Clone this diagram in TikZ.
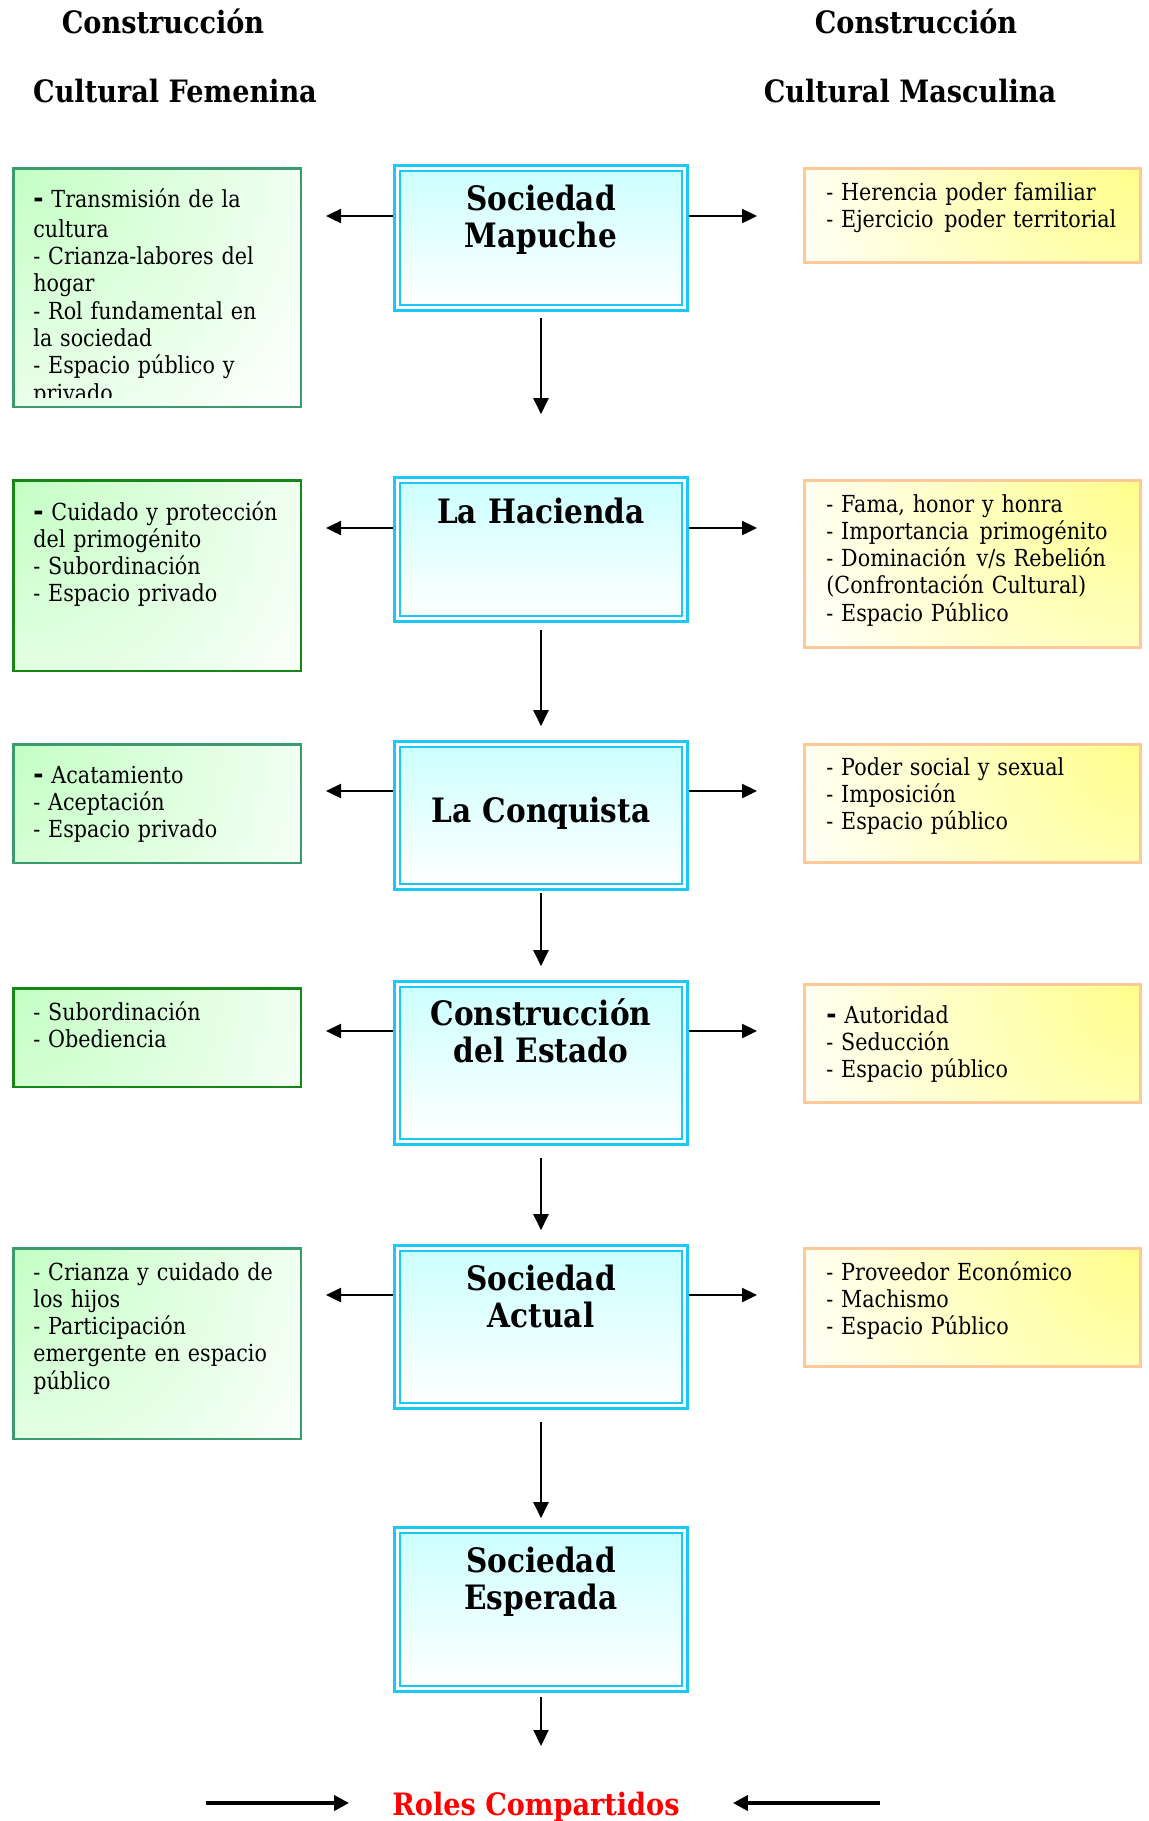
\documentclass[tikz,border=0pt]{standalone}
\usepackage{fontspec}
\setmainfont{DejaVu Serif}[FakeStretch=0.88]
\usetikzlibrary{arrows.meta}

\definecolor{boxcyan}{RGB}{25,200,245}
\definecolor{fillcyan}{RGB}{204,255,255}
\definecolor{fillgreen}{RGB}{196,255,196}
\definecolor{edgeteal}{RGB}{60,155,110}
\definecolor{edgegreen}{RGB}{20,135,20}
\definecolor{fillyellow}{RGB}{255,255,140}
\definecolor{edgepeach}{RGB}{255,200,150}
\definecolor{rolered}{RGB}{255,0,0}

% heavier leading dash used at the start of some lists
\newcommand{\bigdash}{{\fontsize{14pt}{14pt}\selectfont\bfseries -}}
% wide gap between two words
\newcommand{\gap}{\hspace{0.45em}}

\begin{document}
\begin{tikzpicture}[x=0.5pt,y=-0.5pt,
  stage/.style={inner sep=0pt, outer sep=0pt, minimum width=143.8pt,
    draw=boxcyan, line width=1.4pt, double=white, double distance=1.35pt,
    top color=fillcyan, bottom color=white},
  femenino/.style={inner sep=0pt, outer sep=0pt, minimum width=143.75pt,
    draw=edgeteal, line width=1.25pt, fill=white,
    path picture={\fill[inner color=fillgreen, outer color=white]
      (path picture bounding box.north west) circle (185pt);}},
  masculino/.style={inner sep=0pt, outer sep=0pt, minimum width=168pt,
    draw=edgepeach, line width=1.5pt, fill=white,
    path picture={\fill[inner color=fillyellow, outer color=white]
      (path picture bounding box.north east) circle (190pt);}},
  stagetitle/.style={font=\fontsize{16.8pt}{18.5pt}\selectfont\bfseries,
    align=center, text width=160pt, inner sep=0pt, anchor=base},
  roltext/.style={font=\fontsize{11.75pt}{13.65pt}\selectfont,
    align=left, text width=165pt, inner sep=0pt, anchor=base west},
  encabezado/.style={font=\fontsize{15.4pt}{18pt}\selectfont\bfseries,
    inner sep=0pt, anchor=base},
  sidearrow/.style={line width=1.2pt, -{Triangle[length=7.5pt,width=7pt]}},
  downarrow/.style={line width=1pt, -{Triangle[length=8pt,width=7.5pt]}},
  bigarrow/.style={line width=2.4pt, -{Triangle[length=7.5pt,width=7.5pt]}}
]
\fill[white] (0,0) rectangle (1149,1821);
\useasboundingbox (0,0) rectangle (1149,1821);

% column headings
\node[encabezado] (hf1) at (163,33) {Construcción};
\node[encabezado] (hf2) at (175,102) {Cultural Femenina};
\node[encabezado] (hm1) at (916,33) {Construcción};
\node[encabezado] (hm2) at (910,102) {Cultural Masculina};

% central stages
\node[stage, minimum height=69.8pt] (b1) at (541,238) {};
\node[stage, minimum height=69.3pt] (b2) at (541,549.5) {};
\node[stage, minimum height=71.3pt] (b3) at (541,815.5) {};
\node[stage, minimum height=78.8pt] (b4) at (541,1063) {};
\node[stage, minimum height=78.8pt] (b5) at (541,1327) {};
\node[stage, minimum height=79.3pt] (b6) at (541,1609.5) {};

\node[stagetitle] (t1) at (541,210) {Sociedad\\Mapuche};
\node[stagetitle] (t2) at (541,523) {La Hacienda};
\node[stagetitle] (t3) at (541,822) {La Conquista};
\node[stagetitle] (t4) at (541,1025) {Construcción\\del Estado};
\node[stagetitle] (t5) at (541,1290) {Sociedad\\Actual};
\node[stagetitle] (t6) at (541,1572) {Sociedad\\Esperada};

% feminine roles
\node[femenino, minimum height=119.25pt] (g1) at (157,287.5) {};
\node[femenino, draw=edgegreen, minimum height=95.25pt] (g2) at (157,575.5) {};
\node[femenino, minimum height=59.25pt] (g3) at (157,803.5) {};
\node[femenino, draw=edgegreen, minimum height=49.25pt] (g4) at (157,1037.5) {};
\node[femenino, minimum height=95.25pt] (g5) at (157,1343.5) {};

\begin{scope}
  \clip (0,0) rectangle (1149,397);
  \node[roltext] (g1t) at (33,207) {\bigdash{} Transmisión de la\\[1.5pt]cultura\\- Crianza-labores del\\hogar\\- Rol fundamental en\\la sociedad\\- Espacio público y\\privado};
\end{scope}
\node[roltext] (g2t) at (33,520) {\bigdash{} Cuidado y protección\\del primogénito\\- Subordinación\\- Espacio privado};
\node[roltext] (g3t) at (33,783) {\bigdash{} Acatamiento\\- Aceptación\\- Espacio privado};
\node[roltext] (g4t) at (33,1020) {- Subordinación\\- Obediencia};
\node[roltext] (g5t) at (33,1280) {- Crianza y cuidado de\\los hijos\\- Participación\\emergente en espacio\\público};

% masculine roles
\node[masculino, minimum height=47pt] (y1) at (972.5,215.5) {};
\node[masculino, minimum height=83.5pt] (y2) at (972.5,564) {};
\node[masculino, minimum height=59pt] (y3) at (972.5,803.5) {};
\node[masculino, minimum height=59pt] (y4) at (972.5,1043.5) {};
\node[masculino, minimum height=59pt] (y5) at (972.5,1307.5) {};

\node[roltext] (y1t) at (826,200) {- Herencia poder familiar\\- Ejercicio\gap poder territorial};
\node[roltext] (y2t) at (826,512) {- Fama, honor y honra\\- Importancia\gap primogénito\\- Dominación\gap v/s Rebelión\\(Confrontación Cultural)\\- Espacio Público};
\node[roltext] (y3t) at (826,775) {- Poder social y sexual\\- Imposición\\- Espacio público};
\node[roltext] (y4t) at (826,1023) {\bigdash{} Autoridad\\- Seducción\\- Espacio público};
\node[roltext] (y5t) at (826,1280) {- Proveedor Económico\\- Machismo\\- Espacio Público};

% side arrows
\foreach \i/\yy in {1/216, 2/528, 3/791, 4/1031, 5/1295}{
  \coordinate (wl\i) at (326,\yy);
  \coordinate (wr\i) at (757,\yy);
  \draw[sidearrow, shorten <=2pt] (b\i.west |- wl\i) -- (wl\i);
  \draw[sidearrow, shorten <=2pt] (b\i.east |- wr\i) -- (wr\i);
}

% downward sequence
\draw[downarrow, shorten <=5pt, shorten >=33pt] (b1.south) -- (b2.north);
\draw[downarrow, shorten <=5.5pt, shorten >=9pt] (b2.south) -- (b3.north);
\draw[downarrow, shorten <=3pt, shorten >=9pt] (b3.south) -- (b4.north);
\draw[downarrow, shorten <=8pt, shorten >=9pt] (b4.south) -- (b5.north);
\draw[downarrow, shorten <=8pt, shorten >=6pt] (b5.south) -- (b6.north);
\coordinate (fin) at (541,1746);
\draw[downarrow, shorten <=4pt] (b6.south) -- (fin);

% shared roles
\node[encabezado, text=rolered] (rc) at (536,1815) {Roles Compartidos};
\coordinate (ca) at (206,1803);
\coordinate (cb) at (880,1803);
\draw[bigarrow, shorten >=21.5pt] (ca) -- (ca -| rc.west);
\draw[bigarrow, shorten >=26.5pt] (cb) -- (cb -| rc.east);
\end{tikzpicture}
\end{document}
